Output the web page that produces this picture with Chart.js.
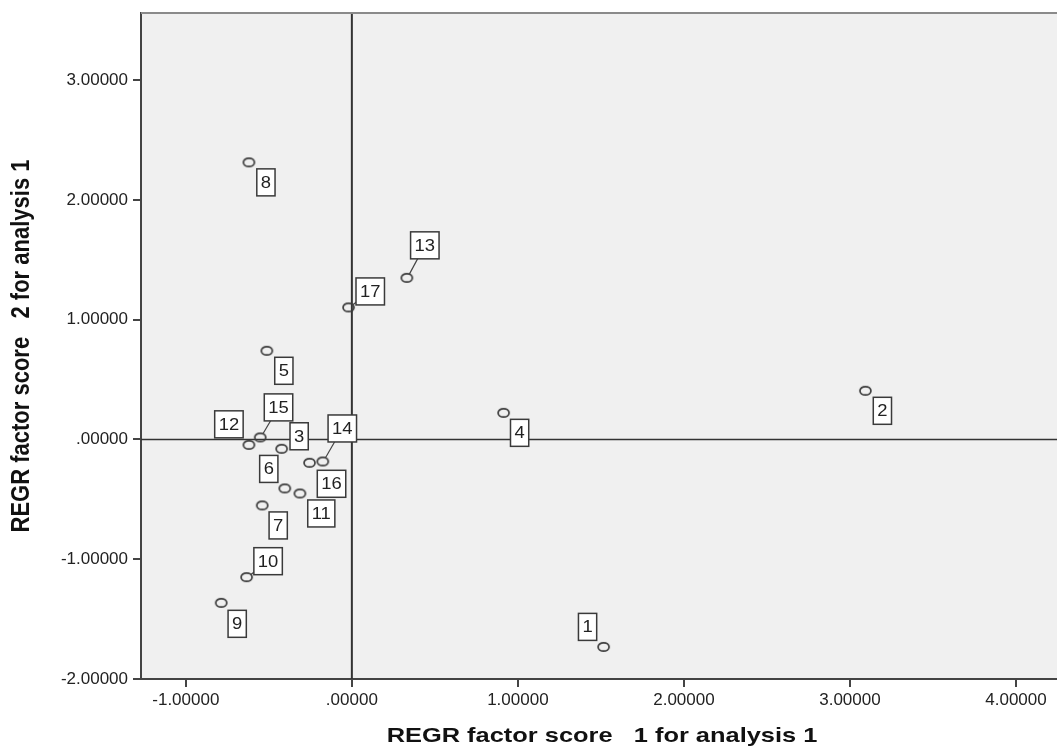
<!DOCTYPE html>
<html>
<head>
<meta charset="utf-8">
<title>REGR factor scores</title>
<script src="https://cdn.jsdelivr.net/npm/chart.js@4/dist/chart.umd.min.js"></script>
<style>
  html, body { margin: 0; padding: 0; background: #fff; overflow: hidden; }
  #wrap { width: 1057px; height: 751px; }
  #scatter { display: block; }
</style>
</head>
<body>
<div id="wrap"><canvas id="scatter" width="1057" height="751"></canvas></div>
<script>
// ============================================
// Data
// ============================================
var caseIds = ['1', '2', '3', '4', '5', '6', '7', '8', '9', '10', '11', '12', '13', '14', '15', '16', '17'];
var factorScore1 = [1.516, 3.093, -0.423, 0.914, -0.512, -0.404, -0.540, -0.620, -0.787, -0.634, -0.313, -0.620, 0.331, -0.175, -0.552, -0.255, -0.020];
var factorScore2 = [-1.732, 0.406, -0.078, 0.222, 0.740, -0.409, -0.551, 2.313, -1.364, -1.150, -0.451, -0.045, 1.349, -0.184, 0.017, -0.195, 1.102];
var xTickValues = [-1, 0, 1, 2, 3, 4];
var yTickValues = [-2, -1, 0, 1, 2, 3];
var xTitle = 'REGR factor score   1 for analysis 1';
var yTitle = 'REGR factor score   2 for analysis 1';

// label box placement next to each point (pixels), and which ones get a leader line
var labelOffsets = [
    [-16, -20], [17, 20], [17.5, -12.5], [16, 20], [17, 20], [-16, -19.5],
    [16, 20], [17, 20], [16, 21], [21.5, -16], [21.4, 20], [-20, -20.5],
    [18, -32.5], [19.5, -33], [18.3, -30], [22, 21], [21.7, -16]
];
var withLeader = { '10': true, '13': true, '14': true, '15': true, '17': true };

var FONT = '"Liberation Sans", Arial, sans-serif';

// SPSS style hollow marker (slightly flat ellipse)
function makeMarker() {
    var c = document.createElement('canvas');
    c.width = 15;
    c.height = 12;
    var g = c.getContext('2d');
    g.strokeStyle = '#3c3c3c';
    g.lineWidth = 1.7;
    g.beginPath();
    g.ellipse(7.5, 6, 5.5, 4.2, 0, 0, Math.PI * 2);
    g.stroke();
    return c;
}

function formatScore(v) {
    var s = Math.abs(v).toFixed(5);
    if (s.charAt(0) === '0') s = s.slice(1);
    return (v < 0 ? '-' : '') + s;
}

// ============================================
// Plot decorations: background, reference lines, case labels, titles
// ============================================
var spssDecor = {
    id: 'spssDecor',
    beforeDraw: function(chart) {
        var a = chart.chartArea;
        var ctx = chart.ctx;
        ctx.save();
        ctx.fillStyle = '#f0f0f0';
        ctx.fillRect(a.left, a.top, a.right - a.left, a.bottom - a.top);
        ctx.restore();
    },
    beforeDatasetsDraw: function(chart) {
        var a = chart.chartArea;
        var ctx = chart.ctx;
        var x0 = chart.scales.x.getPixelForValue(0);
        var y0 = chart.scales.y.getPixelForValue(0);
        ctx.save();
        ctx.strokeStyle = '#333';
        ctx.lineWidth = 2;
        ctx.beginPath();
        ctx.moveTo(x0, a.top);
        ctx.lineTo(x0, a.bottom);
        ctx.stroke();
        ctx.lineWidth = 1.6;
        ctx.beginPath();
        ctx.moveTo(a.left, y0);
        ctx.lineTo(a.right, y0);
        ctx.stroke();
        // top frame
        ctx.strokeStyle = '#8a8a8a';
        ctx.lineWidth = 2;
        ctx.beginPath();
        ctx.moveTo(a.left, a.top);
        ctx.lineTo(a.right, a.top);
        ctx.stroke();
        ctx.restore();
    },
    afterDatasetsDraw: function(chart) {
        var ctx = chart.ctx;
        var xs = chart.scales.x;
        var ys = chart.scales.y;
        var stretch = 1.15;
        ctx.save();
        ctx.font = '16px ' + FONT;
        for (var i = 0; i < caseIds.length; i++) {
            var px = xs.getPixelForValue(factorScore1[i]);
            var py = ys.getPixelForValue(factorScore2[i]);
            var cx = px + labelOffsets[i][0];
            var cy = py + labelOffsets[i][1];
            var tw = ctx.measureText(caseIds[i]).width * stretch;
            var w = tw + 8;
            var h = 27;

            if (withLeader[caseIds[i]]) {
                var dx = cx - px, dy = cy - py;
                var len = Math.sqrt(dx * dx + dy * dy);
                ctx.strokeStyle = '#444';
                ctx.lineWidth = 1.2;
                ctx.beginPath();
                ctx.moveTo(px + dx / len * 5, py + dy / len * 4);
                ctx.lineTo(cx, cy);
                ctx.stroke();
            }

            ctx.fillStyle = '#ffffff';
            ctx.fillRect(cx - w / 2, cy - h / 2, w, h);
            ctx.strokeStyle = '#3a3a3a';
            ctx.lineWidth = 1.5;
            ctx.strokeRect(cx - w / 2, cy - h / 2, w, h);

            ctx.save();
            ctx.translate(cx, cy + 1);
            ctx.scale(stretch, 1);
            ctx.fillStyle = '#222';
            ctx.textAlign = 'center';
            ctx.textBaseline = 'middle';
            ctx.fillText(caseIds[i], 0, 0);
            ctx.restore();
        }
        ctx.restore();
    },
    afterDraw: function(chart) {
        var a = chart.chartArea;
        var ctx = chart.ctx;
        ctx.save();
        ctx.fillStyle = '#111';
        ctx.textAlign = 'center';
        ctx.textBaseline = 'middle';

        ctx.save();
        ctx.font = 'bold 21px ' + FONT;
        ctx.translate((a.left + a.right) / 2 + 3, 736);
        ctx.scale(1.21, 1);
        ctx.fillText(xTitle, 0, 0);
        ctx.restore();

        ctx.save();
        ctx.font = 'bold 22px ' + FONT;
        ctx.translate(22, (a.top + a.bottom) / 2);
        ctx.rotate(-Math.PI / 2);
        ctx.scale(1, 1.15);
        ctx.fillText(yTitle, 0, 0);
        ctx.restore();

        ctx.restore();
    }
};

// ============================================
// Chart
// ============================================
function initScatter() {
    var ctx = document.getElementById('scatter');
    if (!ctx) return;

    var points = factorScore1.map(function(v, i) {
        return { x: v, y: factorScore2[i] };
    });

    new Chart(ctx, {
        type: 'scatter',
        data: {
            datasets: [{
                label: 'cases',
                data: points,
                pointStyle: makeMarker(),
                pointRadius: 6,
                pointHoverRadius: 6
            }]
        },
        options: {
            responsive: false,
            animation: false,
            layout: {
                autoPadding: false,
                padding: { top: 13, right: 0, bottom: 0, left: 0 }
            },
            plugins: {
                legend: { display: false },
                tooltip: { enabled: false }
            },
            scales: {
                x: {
                    type: 'linear',
                    min: -1.27,
                    max: 4.247,
                    afterBuildTicks: function(scale) {
                        scale.ticks = xTickValues.map(function(v) { return { value: v }; });
                    },
                    afterFit: function(scale) {
                        scale.height = 72;
                        scale.paddingLeft = 0;
                        scale.paddingRight = 0;
                    },
                    grid: {
                        display: true,
                        drawOnChartArea: false,
                        drawTicks: true,
                        tickLength: 8,
                        color: '#444',
                        lineWidth: 2
                    },
                    border: { display: true, color: '#444', width: 2 },
                    ticks: {
                        color: '#222',
                        padding: 3,
                        maxRotation: 0,
                        font: { family: FONT, size: 17 },
                        callback: function(value) { return formatScore(value); }
                    }
                },
                y: {
                    type: 'linear',
                    min: -2.0,
                    max: 3.56,
                    afterBuildTicks: function(scale) {
                        scale.ticks = yTickValues.map(function(v) { return { value: v }; });
                    },
                    afterFit: function(scale) {
                        scale.width = 141;
                        scale.paddingTop = 0;
                        scale.paddingBottom = 0;
                    },
                    grid: {
                        display: true,
                        drawOnChartArea: false,
                        drawTicks: true,
                        tickLength: 8,
                        color: '#444',
                        lineWidth: 2
                    },
                    border: { display: true, color: '#444', width: 2 },
                    ticks: {
                        color: '#222',
                        padding: 5,
                        font: { family: FONT, size: 17 },
                        callback: function(value) { return formatScore(value); }
                    }
                }
            }
        },
        plugins: [spssDecor]
    });
}

initScatter();
</script>
</body>
</html>
